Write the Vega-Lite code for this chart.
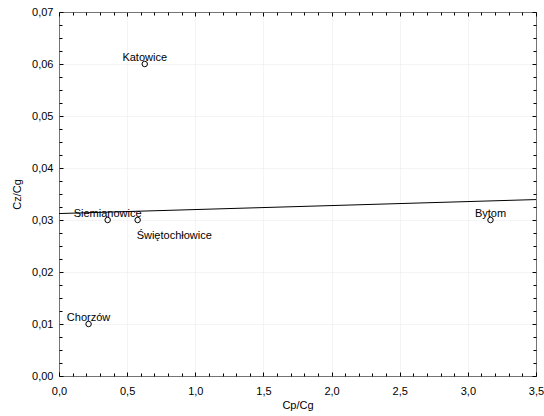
{
  "$schema": "https://vega.github.io/schema/vega-lite/v6.json",
  "width": 477,
  "height": 364,
  "autosize": {"type": "none"},
  "padding": {"left": 59, "top": 12, "right": 8, "bottom": 40},
  "background": "white",
  "config": {
    "font": "Liberation Sans",
    "view": {"stroke": "black", "strokeWidth": 1},
    "axis": {
      "labelFont": "Liberation Sans",
      "titleFont": "Liberation Sans",
      "labelFontSize": 11,
      "titleFontSize": 11,
      "titleFontWeight": "normal",
      "labelColor": "black",
      "titleColor": "black",
      "tickColor": "black",
      "domain": false
    }
  },
  "data": {
    "values": [
      {"city": "Katowice", "x": 0.629, "y": 0.06},
      {"city": "Siemianowice", "x": 0.357, "y": 0.03},
      {"city": "Świętochłowice", "x": 0.577, "y": 0.03},
      {"city": "Bytom", "x": 3.166, "y": 0.03},
      {"city": "Chorzów", "x": 0.217, "y": 0.01}
    ]
  },
  "resolve": {"axis": {"x": "independent", "y": "independent"}},
  "layer": [
    {
      "mark": {"type": "point", "shape": "circle", "filled": false, "stroke": "black", "strokeWidth": 1, "size": 30, "opacity": 1},
      "encoding": {
        "x": {
          "field": "x", "type": "quantitative",
          "scale": {"domain": [0, 3.5], "nice": false, "zero": false},
          "axis": {
            "orient": "bottom", "title": "Cp/Cg",
            "values": [0, 0.5, 1, 1.5, 2, 2.5, 3, 3.5],
            "labelExpr": "replace(format(datum.value, '.1f'), '.', ',')",
            "tickSize": -4, "labelPadding": 13, "titlePadding": 3, "grid": true,
            "gridColor": "#e8e8e8", "gridDash": [1, 1], "labelFlush": false
          }
        },
        "y": {
          "field": "y", "type": "quantitative",
          "scale": {"domain": [0, 0.07], "nice": false, "zero": false},
          "axis": {
            "orient": "left", "title": "Cz/Cg",
            "values": [0, 0.01, 0.02, 0.03, 0.04, 0.05, 0.06, 0.07],
            "labelExpr": "replace(format(datum.value, '.2f'), '.', ',')",
            "tickSize": -4, "labelPadding": 10, "titlePadding": 9, "grid": true,
            "gridColor": "#e8e8e8", "gridDash": [1, 1], "labelFlush": false
          }
        }
      }
    },
    {
      "transform": [{"regression": "y", "on": "x", "extent": [0, 3.5]}],
      "mark": {"type": "line", "color": "black", "strokeWidth": 1},
      "encoding": {
        "x": {
          "field": "x", "type": "quantitative",
          "axis": {
            "orient": "bottom", "title": null, "labels": false, "grid": false,
            "values": [0.1, 0.2, 0.3, 0.4, 0.6, 0.7, 0.8, 0.9, 1.1, 1.2, 1.3, 1.4, 1.6, 1.7, 1.8, 1.9, 2.1, 2.2, 2.3, 2.4, 2.6, 2.7, 2.8, 2.9, 3.1, 3.2, 3.3, 3.4],
            "tickSize": -3
          }
        },
        "y": {
          "field": "y", "type": "quantitative",
          "axis": {
            "orient": "left", "title": null, "labels": false, "grid": false,
            "values": [0.0025, 0.005, 0.0075, 0.0125, 0.015, 0.0175, 0.0225, 0.025, 0.0275, 0.0325, 0.035, 0.0375, 0.0425, 0.045, 0.0475, 0.0525, 0.055, 0.0575, 0.0625, 0.065, 0.0675],
            "tickSize": -3
          }
        }
      }
    },
    {
      "transform": [{"filter": "datum.city !== 'Świętochłowice'"}],
      "mark": {"type": "text", "align": "center", "baseline": "middle", "dy": -6, "fontSize": 11, "font": "Liberation Sans", "color": "black"},
      "encoding": {
        "text": {"field": "city"},
        "x": {
          "field": "x", "type": "quantitative",
          "axis": {
            "orient": "top", "title": null, "labels": false, "grid": false,
            "values": [0, 0.5, 1, 1.5, 2, 2.5, 3, 3.5], "tickSize": -4
          }
        },
        "y": {
          "field": "y", "type": "quantitative",
          "axis": {
            "orient": "right", "title": null, "labels": false, "grid": false,
            "values": [0, 0.01, 0.02, 0.03, 0.04, 0.05, 0.06, 0.07], "tickSize": -4
          }
        }
      }
    },
    {
      "transform": [{"filter": "datum.city === 'Świętochłowice'"}],
      "mark": {"type": "text", "align": "left", "baseline": "middle", "dx": -1, "dy": 16, "fontSize": 11, "font": "Liberation Sans", "color": "black"},
      "encoding": {
        "text": {"field": "city"},
        "x": {
          "field": "x", "type": "quantitative",
          "axis": {
            "orient": "top", "title": null, "labels": false, "grid": false,
            "values": [0.1, 0.2, 0.3, 0.4, 0.6, 0.7, 0.8, 0.9, 1.1, 1.2, 1.3, 1.4, 1.6, 1.7, 1.8, 1.9, 2.1, 2.2, 2.3, 2.4, 2.6, 2.7, 2.8, 2.9, 3.1, 3.2, 3.3, 3.4],
            "tickSize": -3
          }
        },
        "y": {
          "field": "y", "type": "quantitative",
          "axis": {
            "orient": "right", "title": null, "labels": false, "grid": false,
            "values": [0.0025, 0.005, 0.0075, 0.0125, 0.015, 0.0175, 0.0225, 0.025, 0.0275, 0.0325, 0.035, 0.0375, 0.0425, 0.045, 0.0475, 0.0525, 0.055, 0.0575, 0.0625, 0.065, 0.0675],
            "tickSize": -3
          }
        }
      }
    }
  ]
}
